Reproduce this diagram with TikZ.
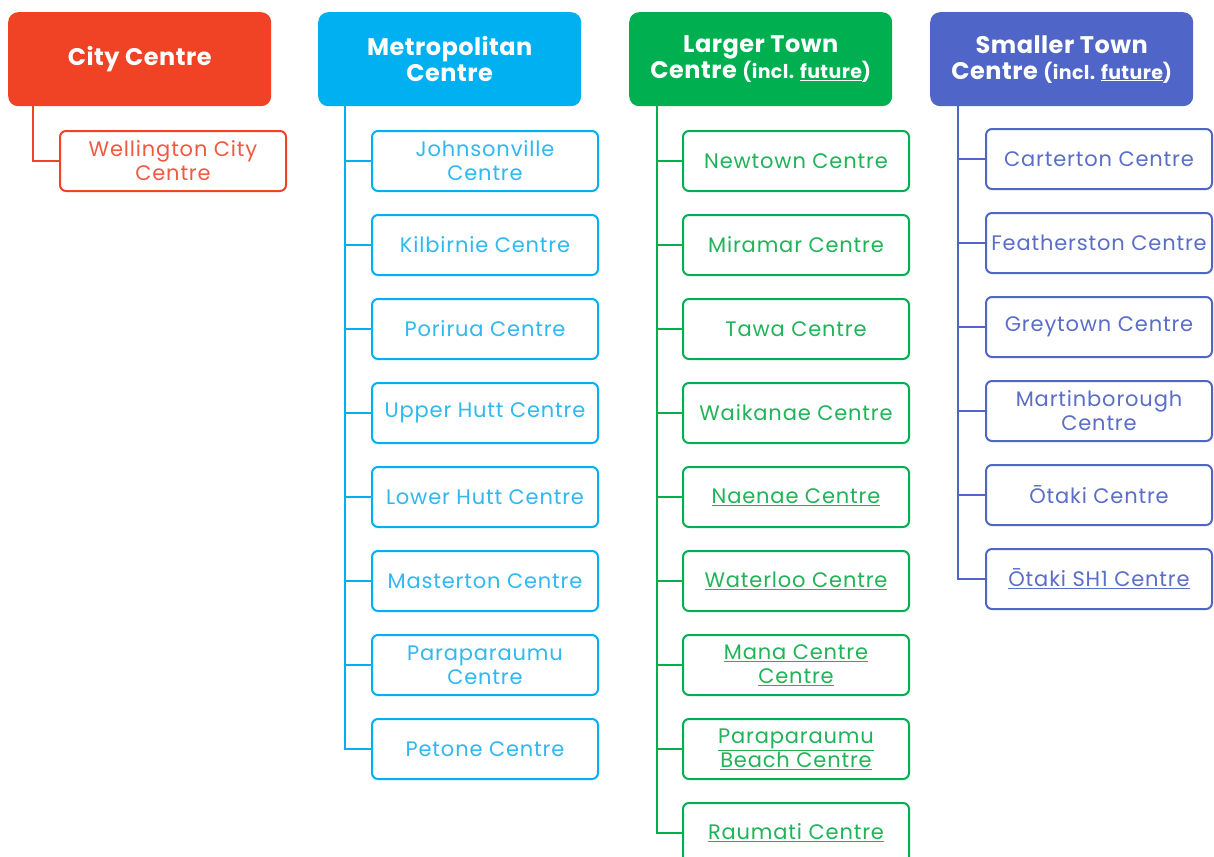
\documentclass[tikz,border=0pt]{standalone}
\usepackage{fontspec}
\setmainfont{Poppins}
\newfontfamily\cfont[LetterSpace=4]{Poppins}
\newfontfamily\hfont[LetterSpace=2]{Poppins}
\definecolor{cred}{HTML}{F04225}
\definecolor{cblue}{HTML}{00B0F0}
\definecolor{cgreen}{HTML}{00B050}
\definecolor{cpurp}{HTML}{4F66C8}
\definecolor{tred}{HTML}{F05A40}
\definecolor{tblue}{HTML}{30B8F0}
\definecolor{tgreen}{HTML}{20B458}
\definecolor{tpurp}{HTML}{5A6EC8}
\tikzset{
  hdr/.style={fill=#1, rounded corners=10pt, minimum width=263pt, minimum height=94pt,
    text=white, font=\hfont\bfseries\fontsize{24}{26}\selectfont, align=center, inner sep=0pt, anchor=north west},
  child/.style={draw=#1, line width=2pt, fill=white, rounded corners=6pt, minimum width=226pt,
    minimum height=60pt, font=\cfont\fontsize{21}{24}\selectfont, align=center, inner sep=0pt, anchor=north west},
  conn/.style={draw=#1, line width=2pt},
}
\newcommand{\sm}[1]{{\fontsize{19}{26}\selectfont #1}}
\begin{document}
\begin{tikzpicture}[x=1pt,y=-1pt]
\useasboundingbox (0,0) rectangle (1214,856);
\clip (0,0) rectangle (1214,856);
% headers
\node[hdr=cred] (h1) at (8,12) {City Centre};
\node[hdr=cblue] (h2) at (318,12) {Metropolitan\\Centre};
\node[hdr=cgreen] (h3) at (629,12) {Larger Town\\Centre \sm{(incl. \underline{future})}};
\node[hdr=cpurp] (h4) at (930,12) {Smaller Town\\Centre \sm{(incl. \underline{future})}};
% city
\node[child=cred, text=tred] (r1) at (59,130) {Wellington City\\Centre};
\draw[conn=cred] ([xshift=25pt]h1.south west) |- (r1.west);
% metro
\foreach \i/\t [count=\k from 0] in {b1/{Johnsonville\\Centre}, b2/{Kilbirnie Centre}, b3/{Porirua Centre}, b4/{Upper Hutt Centre}, b5/{Lower Hutt Centre}, b6/{Masterton Centre}, b7/{Paraparaumu\\Centre}, b8/{Petone Centre}}{
  \node[child=cblue, text=tblue] (\i) at (371,130+84*\k) {\t};
  \draw[conn=cblue] ([xshift=27pt]h2.south west) |- (\i.west);
}
% larger
\foreach \i/\t [count=\k from 0] in {g1/{Newtown Centre}, g2/{Miramar Centre}, g3/{Tawa Centre}, g4/{Waikanae Centre}, g5/{\underline{Naenae Centre}}, g6/{\underline{Waterloo Centre}}, g7/{\underline{Mana Centre}\\\underline{Centre}}, g8/{\underline{Paraparaumu}\\\underline{Beach Centre}}, g9/{\underline{Raumati Centre}}}{
  \node[child=cgreen, text=tgreen] (\i) at (682,130+84*\k) {\t};
  \draw[conn=cgreen] ([xshift=28pt]h3.south west) |- (\i.west);
}
% smaller
\foreach \i/\t [count=\k from 0] in {p1/{Carterton Centre}, p2/{Featherston Centre}, p3/{Greytown Centre}, p4/{Martinborough\\Centre}, p5/{Ōtaki Centre}, p6/{\underline{Ōtaki SH1 Centre}}}{
  \node[child=cpurp, text=tpurp] (\i) at (985,128+84*\k) {\t};
  \draw[conn=cpurp] ([xshift=28pt]h4.south west) |- (\i.west);
}
\end{tikzpicture}
\end{document}
